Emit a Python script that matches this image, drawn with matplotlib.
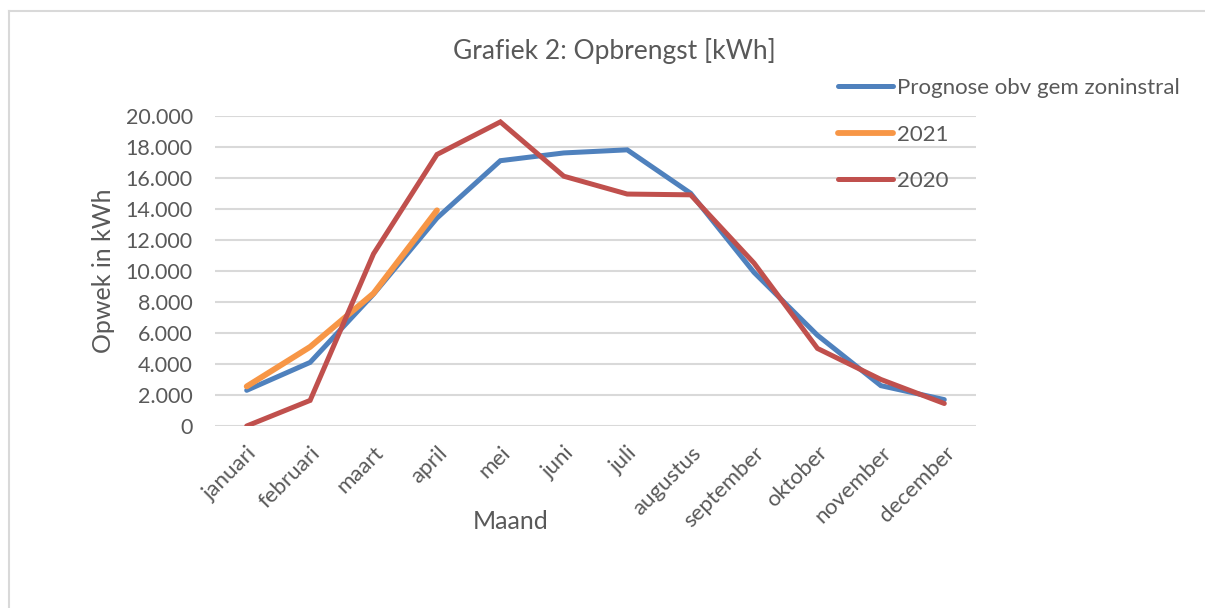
import matplotlib
matplotlib.use("Agg")
import matplotlib.pyplot as plt
from matplotlib.lines import Line2D

# maanden en opbrengst in kWh
maanden = ["januari", "februari", "maart", "april", "mei", "juni", "juli",
           "augustus", "september", "oktober", "november", "december"]
prognose = [2300, 4100, 8500, 13400, 17100, 17600, 17800, 15000, 9900, 5850, 2600, 1700]
jaar2021 = [2550, 5100, 8550, 13900]
jaar2020 = [0, 1650, 11100, 17500, 19600, 16100, 14950, 14900, 10500, 5000, 3000, 1450]

blauw = "#4F81BD"
oranje = "#F79646"
rood = "#C0504D"
tekst = "#595959"

plt.rcParams['font.family'] = ['Lato', 'DejaVu Sans']

fig = plt.figure(figsize=(12.05, 6.08), dpi=100)
ax = fig.add_axes([215/1205, 1-426/608, 761/1205, (426-115.7)/608])

x = list(range(len(maanden)))
ax.plot(x, prognose, color=blauw, lw=3.6, solid_capstyle='round', solid_joinstyle='miter',
        label="Prognose obv gem zoninstral", zorder=3)
ax.plot(x[:len(jaar2021)], jaar2021, color=oranje, lw=4.2, solid_capstyle='round',
        solid_joinstyle='miter', label="2021", zorder=4)
ax.plot(x, jaar2020, color=rood, lw=3.6, solid_capstyle='round', solid_joinstyle='miter',
        label="2020", zorder=5)

ax.set_xlim(-0.5, len(maanden) - 0.5)
ax.set_ylim(0, 20000)
ax.set_yticks(range(0, 20001, 2000))
ax.set_yticklabels([f"{v:,}".replace(",", ".") for v in range(0, 20001, 2000)],
                   fontsize=15.5, color=tekst)
ax.set_xticks(x)
ax.set_xticklabels(maanden, rotation=45, ha='right', rotation_mode='anchor',
                   fontsize=16, color=tekst)
ax.tick_params(axis='both', length=0)
ax.tick_params(axis='y', pad=16)
ax.tick_params(axis='x', pad=12)

ax.grid(axis='y', color="#D9D9D9", lw=1.5)
ax.set_axisbelow(True)
for s in ax.spines.values():
    s.set_visible(False)

ax.set_title("Grafiek 2: Opbrengst [kWh]", fontsize=19, color=tekst, pad=41,
             x=(614-215)/761)
ax.set_ylabel("Opwek in kWh", fontsize=18, color=tekst)
ax.yaxis.set_label_coords((115-215)/761, 0.5)
ax.set_xlabel("Maand", fontsize=18, color=tekst)
ax.xaxis.set_label_coords((511-215)/761, -(510-426)/310.3)

leg = ax.legend(loc='upper left', bbox_to_anchor=(829/1205, 1-69/608),
                bbox_transform=fig.transFigure, frameon=False, fontsize=16,
                labelcolor=tekst, handlelength=2.5, handletextpad=0.15,
                labelspacing=1.2, borderaxespad=0)

# rand van het grafiekvak
fig.add_artist(Line2D([9/1205, 1], [1-11/608, 1-11/608], color="#D9D9D9", lw=1.5))
fig.add_artist(Line2D([9/1205, 9/1205], [0, 1-11/608], color="#D9D9D9", lw=1.5))

fig.savefig("out.png", dpi=100)
